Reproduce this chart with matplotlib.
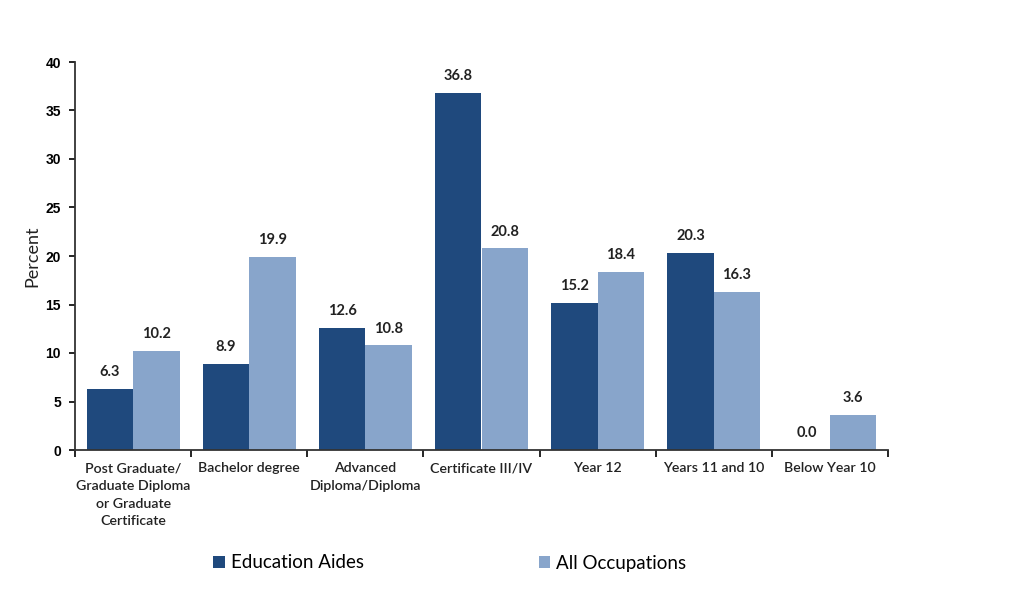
import matplotlib
matplotlib.use("Agg")
import matplotlib.pyplot as plt
import numpy as np

categorias = [
    "Post Graduate/\nGraduate Diploma\nor Graduate\nCertificate",
    "Bachelor degree",
    "Advanced\nDiploma/Diploma",
    "Certificate III/IV",
    "Year 12",
    "Years 11 and 10",
    "Below Year 10",
]
education_aides = [6.3, 8.9, 12.6, 36.8, 15.2, 20.3, 0.0]
all_occupations = [10.2, 19.9, 10.8, 20.8, 18.4, 16.3, 3.6]

cor_escura = "#1f497d"
cor_clara = "#88a5cb"
fonte_cat = ["Lato", "DejaVu Sans"]
fonte_num = ["Liberation Sans Narrow", "Liberation Sans", "DejaVu Sans"]

fig = plt.figure(figsize=(10.24, 6.07), dpi=100)
ax = fig.add_axes([75 / 1024, 1 - 450 / 607, (888 - 75) / 1024, (450 - 62) / 607])

x = np.arange(len(categorias))
w = 0.4
b1 = ax.bar(x - w / 2, education_aides, w, color=cor_escura, label="Education Aides")
b2 = ax.bar(x + w / 2, all_occupations, w, color=cor_clara, label="All Occupations")

for barras, valores in [(b1, education_aides), (b2, all_occupations)]:
    for b, v in zip(barras, valores):
        ax.annotate(f"{v:.1f}", (b.get_x() + b.get_width() / 2, v),
                    xytext=(0, 7), textcoords="offset points",
                    ha="center", va="bottom", fontsize=10.5, fontweight="bold",
                    family=fonte_cat, color="#222222")

ax.set_xlim(-0.5, len(categorias) - 0.5)
ax.set_ylim(0, 40)
ax.set_yticks(range(0, 41, 5))
for lbl in ax.get_yticklabels():
    lbl.set_fontweight("bold")
    lbl.set_family(fonte_num)
    lbl.set_fontsize(10)

# ticks at category boundaries, labels at centers
ax.set_xticks(np.arange(-0.5, len(categorias), 1))
ax.set_xticklabels([])
ax.set_xticks(x, minor=True)
ax.set_xticklabels(categorias, minor=True, fontsize=10.2, family=fonte_cat,
                   fontweight="semibold", linespacing=1.55, color="#222222")
ax.tick_params(axis="x", which="minor", length=0, pad=9)
ax.tick_params(axis="x", which="major", length=5, direction="out", width=1.2)
ax.tick_params(axis="y", length=4, width=1.2, pad=6)

for s in ["top", "right"]:
    ax.spines[s].set_visible(False)
for s in ["left", "bottom"]:
    ax.spines[s].set_linewidth(1.3)
    ax.spines[s].set_color("#333333")

ax.set_ylabel("Percent", fontsize=13, family=fonte_cat, labelpad=4, color="#222222")

fig.legend(handles=[b1, b2], loc="center", bbox_to_anchor=(450 / 1024, 1 - 563 / 607),
           ncol=2, frameon=False, handlelength=0.6, handleheight=0.6,
           handletextpad=0.35, columnspacing=9.3, prop={"family": fonte_cat, "size": 13.5})

fig.savefig("out.png", dpi=100)
